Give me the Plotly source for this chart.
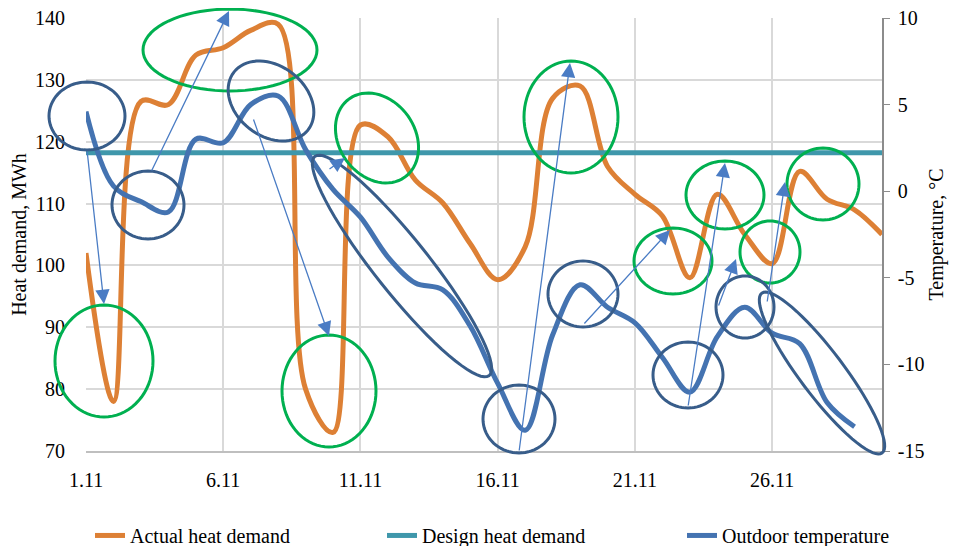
import math
import plotly.graph_objects as go

# ---------------- data ----------------
days = list(range(1, 31))
actual_heat = [102, 78, 126.5, 126, 134, 135.2, 138, 139, 80, 73,
               122.7, 120.8, 113.8, 110.1, 103.5, 97.7, 103, 127, 129, 116,
               111.5, 108, 98, 111.5, 105, 100.3, 115.2, 110.7, 109, 105]
design_heat = [118.2] * 30
temp_days = list(range(1, 30))
outdoor_temp = [4.6, 0.3, -0.6, -1.2, 3.0, 2.8, 5.0, 5.5, 2.4, 0.1,
                -1.5, -3.8, -5.3, -5.7, -7.8, -11.1, -13.8, -8.3, -5.4, -6.7,
                -7.6, -9.6, -11.6, -8.4, -6.7, -8.2, -8.8, -12.2, -13.6]
tick_vals = [1, 6, 11, 16, 21, 26]
tick_text = ["1.11", "6.11", "11.11", "16.11", "21.11", "26.11"]
left_ticks = [70, 80, 90, 100, 110, 120, 130, 140]
right_ticks = [-15, -10, -5, 0, 5, 10]
right_tick_text = ["-15", "-10", "-5", "0", "5", "10"]

ORANGE = "#DD8035"
TEAL = "#3F97AB"
BLUE = "#4473B1"
GREEN = "#00B050"
NAVY = "#385D8A"
ARROW = "#4A7CC4"

FONT = "Liberation Serif, Times New Roman, Tinos, serif"
FS = 20
OFF = 8                      # page body margin offset
W, H = 965 - OFF, 546 - OFF  # figure size so it fits the window
L, R, T, B = 86, 882, 18, 451  # plot area in page pixels

fig = go.Figure()
fig.add_trace(go.Scatter(x=days, y=actual_heat, name="Actual heat demand", mode="lines",
                         legend="legend",
                         line=dict(color=ORANGE, width=5, shape="spline", smoothing=1)))
fig.add_trace(go.Scatter(x=days, y=design_heat, name="Design heat demand", mode="lines",
                         legend="legend2",
                         line=dict(color=TEAL, width=5)))
fig.add_trace(go.Scatter(x=temp_days, y=outdoor_temp, name="Outdoor temperature", mode="lines",
                         yaxis="y2", legend="legend3",
                         line=dict(color=BLUE, width=5, shape="spline", smoothing=1)))

# ------------- decorations (pixel geometry -> paper coords) -------------
def px(x):
    return (x - L) / (R - L)

def py(y):
    return (B - y) / (B - T)

def ellipse_path(cx, cy, a, b, ang):
    pts = []
    t = math.radians(ang)
    for i in range(73):
        th = 2 * math.pi * i / 72
        ex = a * math.cos(th)
        ey = b * math.sin(th)
        x = cx + ex * math.cos(t) - ey * math.sin(t)
        y = cy + ex * math.sin(t) + ey * math.cos(t)
        pts.append(f"{px(x):.5f},{py(y):.5f}")
    return "M " + " L ".join(pts) + " Z"

# (cx, cy, semi-a, semi-b, angle deg, color) in page pixels
ellipses = [
    (104, 361, 49, 56, 0, GREEN),
    (230, 50, 87, 41, 0, GREEN),
    (329, 391, 47, 56, 0, GREEN),
    (377, 138, 48, 38, 55, GREEN),
    (571, 117, 47, 56, 0, GREEN),
    (725, 195, 39, 34, 0, GREEN),
    (673, 261, 39, 33, 0, GREEN),
    (770, 252, 30, 31, 0, GREEN),
    (823, 184, 36, 36, 0, GREEN),
    (87, 116, 38, 34, 0, NAVY),
    (148, 205, 36, 34, 0, NAVY),
    (271, 101, 47, 35, 38, NAVY),
    (402, 266, 140, 27, 51.5, NAVY),
    (519, 419, 36, 34, 0, NAVY),
    (583, 294, 35, 33, 0, NAVY),
    (688, 375, 35, 33, 0, NAVY),
    (745, 307, 29, 31, 0, NAVY),
    (822, 373, 100, 22, 53, NAVY),
]
shapes = []
for cx, cy, a, b, ang, col in ellipses:
    shapes.append(dict(type="path", xref="paper", yref="paper",
                       path=ellipse_path(cx, cy, a, b, ang),
                       line=dict(color=col, width=3), fillcolor="rgba(0,0,0,0)",
                       layer="above"))

# arrows: (tail x, tail y, head x, head y) in page pixels
arrows = [
    (87, 150, 104, 304),
    (151, 172, 229, 11),
    (253, 118, 329, 336),
    (328, 170, 345, 158),
    (519, 452, 570, 63),
    (583, 325, 670, 230),
    (688, 407, 725, 163),
    (718, 307, 736, 259),
    (767, 303, 785, 182),
]
annotations = []
for tx, ty, hx, hy in arrows:
    annotations.append(dict(x=px(hx), y=py(hy), xref="paper", yref="paper",
                            ax=tx - hx, ay=ty - hy, text="", showarrow=True,
                            arrowhead=2, arrowsize=2.2, arrowwidth=1.3,
                            arrowcolor=ARROW, standoff=0))

def leg(xpage):
    return dict(orientation="h", x=px(xpage), xanchor="left", y=-0.15, yanchor="top",
                font=dict(family=FONT, size=FS), bgcolor="rgba(0,0,0,0)")

fig.update_layout(
    width=W, height=H,
    margin=dict(l=L - OFF, r=W - (R - OFF), t=T - OFF, b=H - (B - OFF), autoexpand=False),
    paper_bgcolor="white", plot_bgcolor="white",
    font=dict(family=FONT, size=FS, color="#000000"),
    showlegend=True,
    legend=leg(90), legend2=leg(382), legend3=leg(682),
    xaxis=dict(range=[1, 30], tickmode="array", tickvals=tick_vals, ticktext=tick_text,
               showgrid=True, gridcolor="#D9D9D9", gridwidth=1.5,
               showline=True, linecolor="#BFBFBF", linewidth=1.5,
               zeroline=False, ticks="", automargin=False, ticklabelstandoff=10,
               ticklabeloverflow="allow",
               tickfont=dict(family=FONT, size=FS)),
    yaxis=dict(range=[70, 140], tickmode="array", tickvals=left_ticks,
               showgrid=True, gridcolor="#D9D9D9",
               gridwidth=1.5, zeroline=False, showline=False, ticks="", automargin=False,
               ticklabelstandoff=20, ticklabeloverflow="allow",
               title=dict(text="Heat demand, MWh", font=dict(family=FONT, size=FS), standoff=4),
               tickfont=dict(family=FONT, size=FS)),
    yaxis2=dict(range=[-15, 10], tickmode="array", tickvals=right_ticks,
                ticktext=right_tick_text,
                overlaying="y", side="right",
                showgrid=False, zeroline=False, showline=True, linecolor="#8C8C8C",
                linewidth=1.5, ticks="outside", ticklen=6, tickcolor="#8C8C8C",
                automargin=False, ticklabelstandoff=4, ticklabeloverflow="allow",
                title=dict(text="Temperature, °C", font=dict(family=FONT, size=FS), standoff=6),
                tickfont=dict(family=FONT, size=FS)),
    shapes=shapes,
    annotations=annotations,
)

fig.write_html("out.html")
